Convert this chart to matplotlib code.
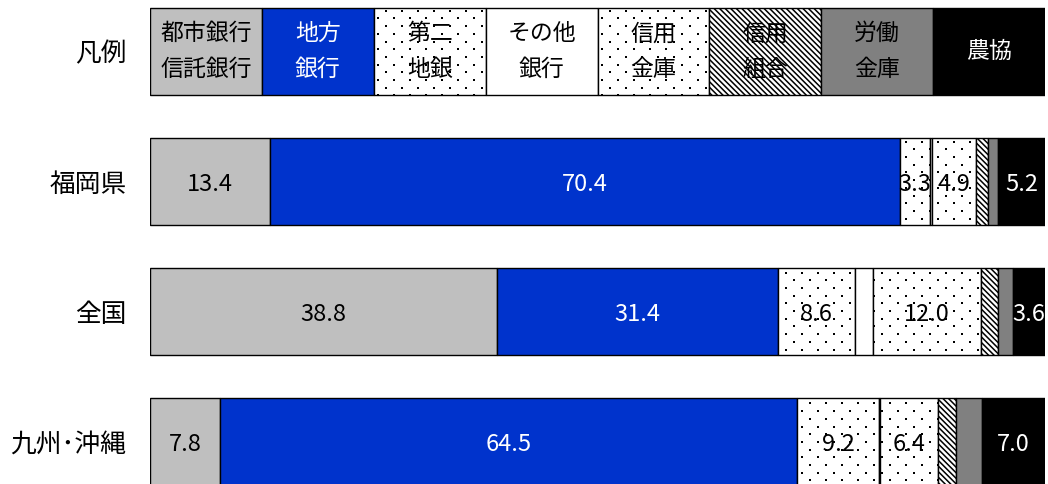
import matplotlib
matplotlib.use("Agg")
import matplotlib.pyplot as plt
import numpy as np

plt.rcParams['font.family'] = ['Noto Sans CJK JP', 'DejaVu Sans']
plt.rcParams['hatch.linewidth'] = 1.1

# categories (legend order)
series = ['都市銀行\n信託銀行', '地方\n銀行', '第二\n地銀', 'その他\n銀行', '信用\n金庫', '信用\n組合', '労働\n金庫', '農協']
rows = ['福岡県', '全国', '九州･沖縄']

fukuoka = [13.4, 70.4, 3.3, 0.3, 4.9, 1.3, 1.2, 5.2]
zenkoku = [38.8, 31.4, 8.6, 2.0, 12.0, 1.9, 1.7, 3.6]
kyushu = [7.8, 64.5, 9.2, 0.1, 6.4, 2.0, 3.0, 7.0]
legend_vals = [12.5] * 8

# styles
faces = ['#BFBFBF', '#0033CC', 'white', 'white', 'white', 'white', '#808080', 'black']
hatches = [None, None, None, None, None, '\\' * 6, None, None]
dotted = [False, False, True, False, True, False, False, False]
txtcol = ['black', 'white', 'black', 'black', 'black', 'black', 'black', 'white']
show_label = [True, True, True, False, True, False, False, True]

W, H = 1048, 484
fig = plt.figure(figsize=(W / 100, H / 100), dpi=100)
ax_left, ax_right = 150, 1045
ax = fig.add_axes([ax_left / W, 0, (ax_right - ax_left) / W, 1])

row_names = ['凡例'] + rows
data = [legend_vals, fukuoka, zenkoku, kyushu]
pitch = 130.0
h = 87 / pitch
xlim = (0, 100)
ylim = ((H - 51.5) / pitch, -51.5 / pitch)
ax.set_xlim(*xlim)
ax.set_ylim(*ylim)

# dot texture grid (in pixels): column step 16, row step ~8, staggered
px_x = (xlim[1] - xlim[0]) / (ax_right - ax_left)
px_y = (ylim[0] - ylim[1]) / H


def dot_texture(rect, x0, x1, y0, y1):
    col, rowstep = 16.0, 7.7
    gx0 = (x0 - xlim[0]) / px_x
    gx1 = (x1 - xlim[0]) / px_x
    gy0 = (y0 - ylim[1]) / px_y
    gy1 = (y1 - ylim[1]) / px_y
    xs, ys = [], []
    j0 = int(np.floor(gy0 / rowstep)) - 1
    j1 = int(np.ceil(gy1 / rowstep)) + 1
    for j in range(j0, j1 + 1):
        off = (col / 2) if j % 2 else 0.0
        k0 = int(np.floor((gx0 - off) / col)) - 1
        k1 = int(np.ceil((gx1 - off) / col)) + 1
        for k in range(k0, k1 + 1):
            xs.append(xlim[0] + (k * col + off + 4) * px_x)
            ys.append(ylim[1] + (j * rowstep + 3) * px_y)
    sc = ax.scatter(xs, ys, s=2.2, marker='s', color='black', linewidths=0, zorder=3)
    sc.set_clip_path(rect)


for r, vals in enumerate(data):
    left = 0.0
    for i, v in enumerate(vals):
        bars = ax.barh(r, v, left=left, height=h, color=faces[i], edgecolor='black',
                       linewidth=1.0, hatch=hatches[i], zorder=2)
        if dotted[i]:
            dot_texture(bars[0], left, left + v, r - h / 2, r + h / 2)
        cx = left + v / 2
        if r == 0:
            ax.text(cx, r, series[i], ha='center', va='center', fontsize=16.5,
                    color=txtcol[i], linespacing=1.7, zorder=5)
        elif show_label[i]:
            ax.text(cx, r + 0.02, f'{v:.1f}', ha='center', va='center', fontsize=17,
                    color=txtcol[i], zorder=5)
        left += v

ax.set_yticks(range(len(row_names)))
ax.set_yticklabels(row_names, fontsize=18.5)
ax.tick_params(axis='y', length=0, pad=17)
ax.set_xticks([])
for s in ax.spines.values():
    s.set_visible(False)

fig.savefig('out.png', dpi=100)
